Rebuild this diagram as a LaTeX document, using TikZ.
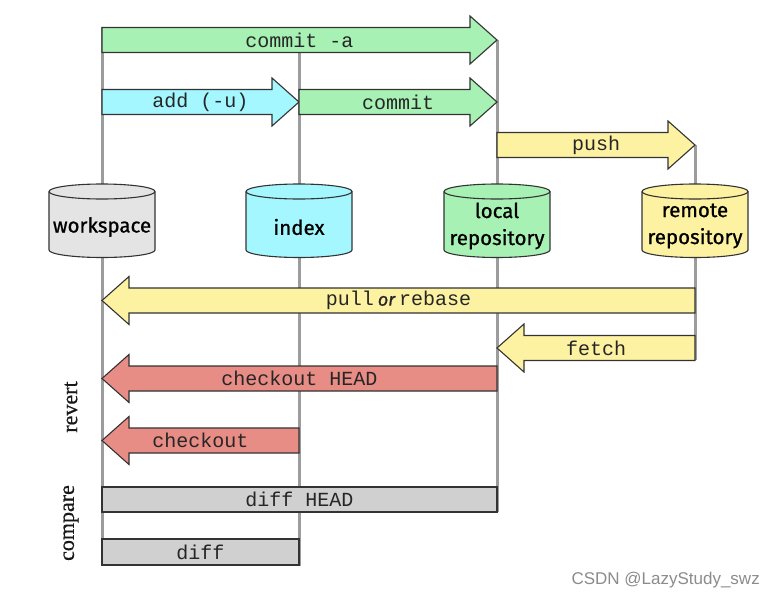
\documentclass[tikz,border=0pt]{standalone}
\usepackage{fontspec}
\newfontfamily\monof{Liberation Mono}
\newfontfamily\cylf{Fira Sans}[FakeBold=0.8]
\newfontfamily\wmf{Liberation Sans}
\newfontfamily\sidef{Liberation Serif}[FakeBold=0.6]
\definecolor{gitgreen}{HTML}{A8F1B4}
\definecolor{gitcyan}{HTML}{A4F7FF}
\definecolor{gityellow}{HTML}{FDF1A2}
\definecolor{gitred}{HTML}{E88C86}
\definecolor{gitgray}{HTML}{D0D0D0}
\definecolor{wsgray}{HTML}{E4E4E4}
\definecolor{railgray}{HTML}{9C9C9C}
\definecolor{outline}{HTML}{333333}
\definecolor{wmgray}{HTML}{8C8C8C}
\newcommand\rarr[4]{% x1, x2, yc, colour
  \draw[arrowline, fill=#4] (#1,#3-12.5) -- (#2-27,#3-12.5) -- (#2-27,#3-24) -- (#2,#3)
    -- (#2-27,#3+24) -- (#2-27,#3+12.5) -- (#1,#3+12.5) -- cycle;}
\newcommand\larr[4]{% x1 (tail, right), x2 (tip, left), yc, colour
  \draw[arrowline, fill=#4] (#1,#3-12.5) -- (#2+27,#3-12.5) -- (#2+27,#3-24) -- (#2,#3)
    -- (#2+27,#3+24) -- (#2+27,#3+12.5) -- (#1,#3+12.5) -- cycle;}
\newcommand\cyl[2]{% cx, colour
  \fill[#2] (#1-53,191.5) rectangle (#1+53,250);
  \fill[#2] (#1,250) ellipse[x radius=53, y radius=7.5];
  \draw[cylline] (#1-53,191.5) -- (#1-53,250) arc[start angle=180, end angle=0, x radius=53, y radius=7.5] -- (#1+53,191.5);
  \filldraw[cylline, fill=#2] (#1,191.5) ellipse[x radius=53, y radius=7.5];}
\begin{document}
\begin{tikzpicture}[x=1pt, y=-1pt,
  arrowline/.style={draw=outline, line width=1.1pt, line join=miter},
  cylline/.style={draw=outline, line width=1.1pt},
  rail/.style={draw=railgray, line width=3pt},
  mono/.style={font=\monof\fontsize{20}{20}\selectfont, text=black!85, inner sep=0pt},
  cyltext/.style={font=\cylf\fontsize{20.5}{27}\selectfont, text=black, align=center, inner sep=0pt},
  side/.style={font=\sidef\fontsize{22}{22}\selectfont, text=black!90, rotate=90, inner sep=0pt},
  wm/.style={font=\wmf\fontsize{17}{17}\selectfont, text=wmgray, inner sep=0pt}]
\fill[white] (0,0) rectangle (775,599);
\useasboundingbox (0,0) rectangle (775,599);
% rail end points
\coordinate (wsT) at (102,27);  \coordinate (wsB) at (102,566);
\coordinate (ixT) at (299,52);  \coordinate (ixB) at (299,566);
\coordinate (lrT) at (497,40);  \coordinate (lrB) at (497,512);
\coordinate (rrT) at (695,145); \coordinate (rrB) at (695,360);
\draw[rail] (wsT) -- (wsB);
\draw[rail] (ixT) -- (ixB);
\draw[rail] (lrT) -- (lrB);
\draw[rail] (rrT) -- (rrB);
% cylinders
\cyl{102}{wsgray}
\cyl{299}{gitcyan}
\cyl{497}{gitgreen}
\cyl{695}{gityellow}
\node[cyltext] (ws) at (102,227) {workspace};
\node[cyltext] (ix) at (299,227) {index};
\node[cyltext] (lr) at (497,226) {local\\repository};
\node[cyltext] (rr) at (695,226) {remote\\repository};
% arrows
\rarr{102}{497}{40}{gitgreen}
\node[mono] (cma) at (299.5,40) {commit -a};
\rarr{102}{299}{102}{gitcyan}
\node[mono] (add) at (200.5,102) {add (-u)};
\rarr{299}{497}{102}{gitgreen}
\node[mono] (cm) at (398,102) {commit};
\rarr{497}{695}{145}{gityellow}
\node[mono] (push) at (596,145) {push};
\larr{695}{102}{300.5}{gityellow}
\node[mono] (pull) at (398.5,300.5) {pull\hspace{4pt}{\cylf\itshape\fontsize{18}{18}\selectfont or}\hspace{4pt}rebase};
\larr{695}{497}{348}{gityellow}
\node[mono] (fetch) at (596,348) {fetch};
\larr{497}{102}{378.5}{gitred}
\node[mono] (coh) at (299.5,378.5) {checkout HEAD};
\larr{299}{102}{440.5}{gitred}
\node[mono] (co) at (200.5,440.5) {checkout};
% compare boxes
\draw[arrowline, fill=gitgray] (102,487) rectangle (497,512);
\node[mono] (dh) at (299.5,499.5) {diff HEAD};
\draw[arrowline, fill=gitgray] (102,539) rectangle (299,565);
\node[mono] (df) at (200.5,552) {diff};
% side labels
\node[side] (rev) at (71,407) {revert};
\node[side] (cmp) at (71,523) {compare};
% watermark
\node[wm, anchor=east] (wmk) at (760,580) {CSDN @LazyStudy\_swz};
\end{tikzpicture}
\end{document}
